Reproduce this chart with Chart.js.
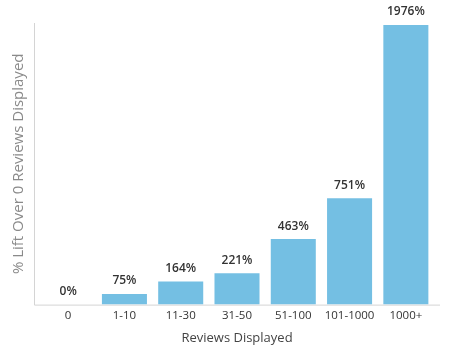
<!DOCTYPE html>
<html>
<head>
<meta charset="utf-8">
<script src="https://cdn.jsdelivr.net/npm/chart.js@4.4.1/dist/chart.umd.min.js"></script>
<style>
  html, body { margin: 0; padding: 0; background: #fff; }
  #wrap { width: 450px; height: 349px; }
</style>
</head>
<body>
<div id="wrap"><canvas id="liftChart"></canvas></div>
<script>
const categories = ["0", "1-10", "11-30", "31-50", "51-100", "101-1000", "1000+"];
const liftValues = [0, 75, 164, 221, 463, 751, 1976];

const fontFamily = "'Open Sans', sans-serif";

// axis lines sit a little outside the category band
const axisLines = {
  id: "axisLines",
  beforeDatasetsDraw(chart) {
    const { ctx, chartArea } = chart;
    ctx.save();
    ctx.strokeStyle = "#d4d4d4";
    ctx.lineWidth = 1;
    ctx.beginPath();
    ctx.moveTo(chartArea.left - 5.5, chartArea.top);
    ctx.lineTo(chartArea.left - 5.5, chartArea.bottom + 0.5);
    ctx.lineTo(chartArea.right + 6, chartArea.bottom + 0.5);
    ctx.stroke();
    ctx.restore();
  }
};

// value labels above each bar
const valueLabels = {
  id: "valueLabels",
  afterDatasetsDraw(chart) {
    const { ctx } = chart;
    const meta = chart.getDatasetMeta(0);
    ctx.save();
    ctx.fillStyle = "#333";
    ctx.font = "600 12px " + fontFamily;
    ctx.textAlign = "center";
    ctx.textBaseline = "bottom";
    meta.data.forEach((bar, i) => {
      ctx.fillText(liftValues[i] + "%", bar.x, bar.y - 7);
    });
    ctx.restore();
  }
};

const ctx = document.getElementById("liftChart").getContext("2d");
new Chart(ctx, {
  type: "bar",
  data: {
    labels: categories,
    datasets: [{
      data: liftValues,
      backgroundColor: "#74bfe3",
      borderWidth: 0,
      barPercentage: 0.8,
      categoryPercentage: 1
    }]
  },
  options: {
    responsive: true,
    maintainAspectRatio: false,
    animation: false,
    layout: { padding: { top: 23, right: 16, bottom: 3, left: 10 } },
    plugins: { legend: { display: false }, tooltip: { enabled: false } },
    scales: {
      x: {
        grid: { display: false, drawTicks: false },
        border: { display: false },
        ticks: { color: "#333", font: { family: fontFamily, size: 11.5 }, padding: 4 },
        title: { display: true, text: "Reviews Displayed", color: "#444", font: { family: fontFamily, size: 13 }, padding: { top: 4, bottom: 0 } }
      },
      y: {
        min: 0,
        max: 1990,
        grid: { display: false, drawTicks: false },
        border: { display: false },
        ticks: { display: false },
        title: { display: true, text: "% Lift Over 0 Reviews Displayed", color: "#8a8a8a", font: { family: fontFamily, size: 15 }, padding: { top: 0, bottom: 12 } }
      }
    }
  },
  plugins: [axisLines, valueLabels]
});
</script>
</body>
</html>
